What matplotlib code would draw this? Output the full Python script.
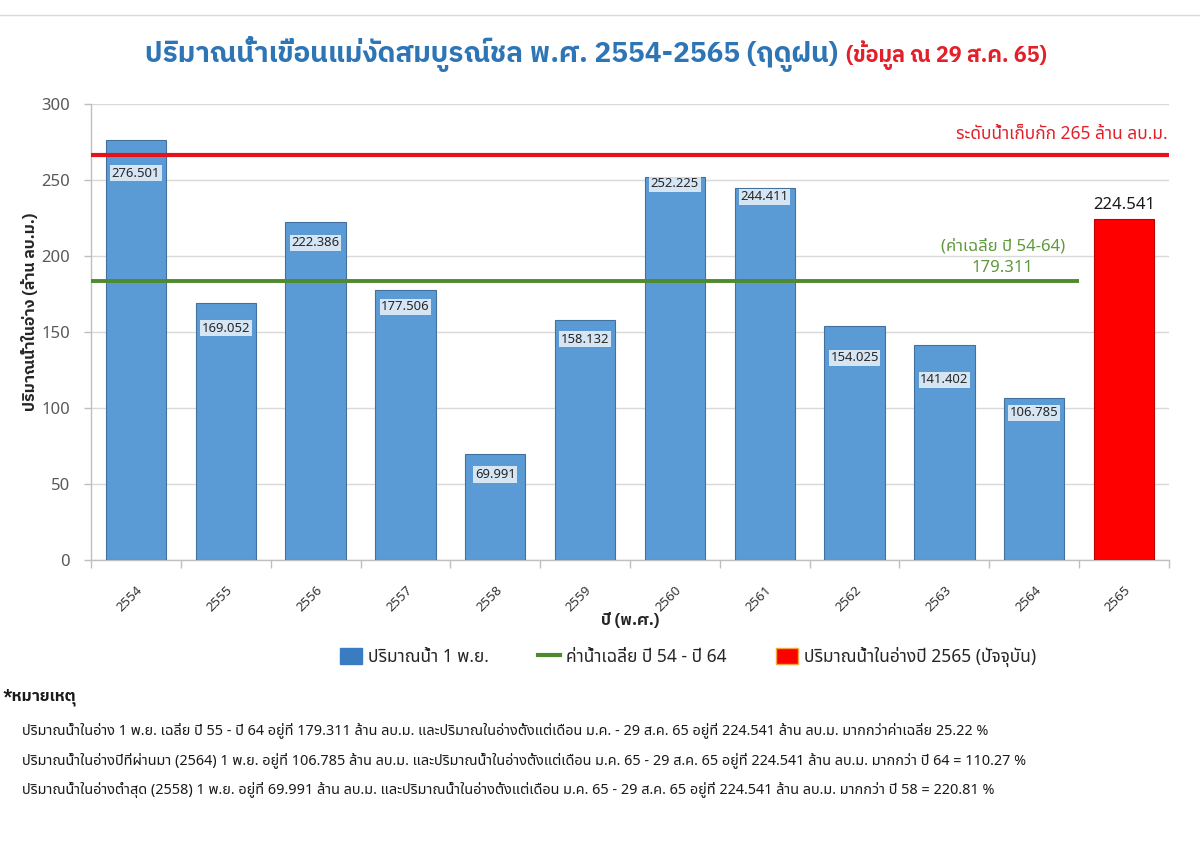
import matplotlib
matplotlib.use("Agg")
import matplotlib.pyplot as plt
from matplotlib.patches import Patch
from matplotlib.lines import Line2D
import numpy as np

FAM = ['Noto Sans', 'Noto Sans Thai', 'DejaVu Sans']
BFAM = ['IBM Plex Sans Thai', 'Noto Sans Thai', 'DejaVu Sans']
plt.rcParams['font.family'] = FAM

# ---------------- data ----------------
years = ['2554', '2555', '2556', '2557', '2558', '2559', '2560', '2561',
         '2562', '2563', '2564', '2565']
nov1_volume = [276.501, 169.052, 222.386, 177.506, 69.991, 158.132, 252.225,
               244.411, 154.025, 141.402, 106.785]
current_volume = 224.541
storage_level = 266.5          # drawn line position
average_level = 183.3          # drawn line position
average_label = '179.311'
yticks = [0, 50, 100, 150, 200, 250, 300]

title_main = 'ปริมาณน้ำเขื่อนแม่งัดสมบูรณ์ชล พ.ศ. 2554-2565 (ฤดูฝน)'
title_sub = '(ข้อมูล ณ 29 ส.ค. 65)'
ylabel = 'ปริมาณน้ำในอ่าง (ล้าน ลบ.ม.)'
xlabel = 'ปี (พ.ศ.)'
storage_text = 'ระดับน้ำเก็บกัก 265 ล้าน ลบ.ม.'
average_text = '(ค่าเฉลี่ย ปี 54-64)'
legend_labels = ['ปริมาณน้ำ 1 พ.ย.', 'ค่าน้ำเฉลี่ย ปี 54 - ปี 64',
                 'ปริมาณน้ำในอ่างปี 2565 (ปัจจุบัน)']
note_title = '*หมายเหตุ'
notes = [
    'ปริมาณน้ำในอ่าง 1 พ.ย. เฉลี่ย ปี 55 - ปี 64 อยู่ที่ 179.311 ล้าน ลบ.ม. และปริมาณในอ่างตั้งแต่เดือน ม.ค. - 29 ส.ค. 65 อยู่ที่ 224.541 ล้าน ลบ.ม. มากกว่าค่าเฉลี่ย 25.22 %',
    'ปริมาณน้ำในอ่างปีที่ผ่านมา (2564) 1 พ.ย. อยู่ที่ 106.785 ล้าน ลบ.ม. และปริมาณน้ำในอ่างตั้งแต่เดือน ม.ค. 65 - 29 ส.ค. 65 อยู่ที่ 224.541 ล้าน ลบ.ม. มากกว่า ปี 64 = 110.27 %',
    'ปริมาณน้ำในอ่างต่ำสุด (2558) 1 พ.ย. อยู่ที่ 69.991 ล้าน ลบ.ม. และปริมาณน้ำในอ่างตั้งแต่เดือน ม.ค. 65 - 29 ส.ค. 65 อยู่ที่ 224.541 ล้าน ลบ.ม. มากกว่า ปี 58 = 220.81 %',
]

# per-bar label offsets below bar top (points) – styling only
label_offsets = [24, 18, 15, 12, 15, 14, 5, 6, 23, 25, 11]

BLUE = '#5B9BD5'
BLUE_EDGE = '#41719C'
RED = '#FF0000'
RED_LINE = '#E5121C'
GREEN_LINE = '#4E8A2E'
GREEN_TEXT = '#5E9A3C'
TITLE_BLUE = '#2E75B6'
TITLE_RED = '#E3202A'
DARK = '#262626'
GRAY_TXT = '#595959'

fig = plt.figure(figsize=(12, 8.48), dpi=100)
fig.patch.set_facecolor('white')
ax = fig.add_axes([91 / 1200, 1 - 560 / 848, (1169 - 91) / 1200, (560 - 104) / 848])

x = np.arange(len(years))
n_hist = len(nov1_volume)
bars = ax.bar(x[:n_hist], nov1_volume, width=0.67, color=BLUE,
              edgecolor=BLUE_EDGE, linewidth=0.8, zorder=3)
cur = ax.bar(x[n_hist:], [current_volume], width=0.67, color=RED,
             edgecolor='#C00000', linewidth=0.8, zorder=3)

for b, v, off in zip(bars, nov1_volume, label_offsets):
    ax.annotate(f'{v:.3f}', xy=(b.get_x() + b.get_width() / 2, v),
                xytext=(0, -off), textcoords='offset points',
                ha='center', va='center', fontsize=9.4, color=DARK, zorder=5,
                bbox=dict(boxstyle='square,pad=0.12', fc='white', ec='none', alpha=0.75))
ax.annotate(f'{current_volume:.3f}', xy=(x[-1], current_volume),
            xytext=(0, 4), textcoords='offset points', ha='center', va='bottom',
            fontsize=12, color='#1a1a1a', zorder=5)

# reference lines
ax.plot([-0.5, len(years) - 0.5], [storage_level, storage_level], color=RED_LINE,
        lw=3.0, zorder=4, solid_capstyle='butt')
ax.plot([-0.5, n_hist - 0.5], [average_level, average_level], color=GREEN_LINE,
        lw=2.8, zorder=4, solid_capstyle='butt')

ax.text(len(years) - 0.52, storage_level + 8, storage_text, ha='right', va='bottom',
        color=TITLE_RED, fontsize=12.5)
ax.text(9.65, average_level + 23, average_text, ha='center', va='center',
        color=GREEN_TEXT, fontsize=12)
ax.text(9.65, average_level + 8.5, average_label, ha='center', va='center',
        color=GREEN_TEXT, fontsize=12)

ax.set_xlim(-0.5, len(years) - 0.5)
ax.set_ylim(0, 300)
ax.set_yticks(yticks)
ax.set_yticklabels([str(t) for t in yticks], fontsize=12, color=GRAY_TXT)
ax.set_xticks(x)
ax.set_xticklabels(years, rotation=45, ha='right', va='top', rotation_mode='anchor',
                   fontsize=9.5, color='#333333')
ax.tick_params(axis='x', length=0, pad=17)
ax.set_xticks(np.arange(-0.5, len(years), 1.0), minor=True)
ax.tick_params(axis='x', which='minor', length=6, color='#BFBFBF', width=1)
ax.tick_params(axis='y', length=5, color='#BFBFBF', width=1, pad=10)
ax.grid(axis='y', color='#D9D9D9', lw=1, zorder=0)
ax.set_axisbelow(True)
for s in ['top', 'right']:
    ax.spines[s].set_visible(False)
for s in ['left', 'bottom']:
    ax.spines[s].set_color('#BFBFBF')
    ax.spines[s].set_linewidth(1)

ax.set_ylabel(ylabel, fontsize=11.5, fontweight='bold', color=DARK, family=BFAM)
ax.yaxis.set_label_coords(-0.049, 0.545)
ax.set_xlabel(xlabel, fontsize=11.5, fontweight='bold', color=DARK, family=BFAM)
ax.xaxis.set_label_coords(0.5, -0.115)

# title (two colours)
t1 = fig.text(145 / 1200, 1 - 62 / 848, title_main, ha='left', va='baseline',
              fontsize=20.2, color=TITLE_BLUE, fontweight='bold', family=BFAM)
fig.canvas.draw()
ex = t1.get_window_extent()
fig.text(ex.x1 / 1200 + 8 / 1200, 1 - 62 / 848, title_sub, ha='left', va='baseline',
         fontsize=15.6, color=TITLE_RED, fontweight='bold', family=BFAM)

# legend
handles = [Patch(facecolor='#3A7CC2', edgecolor='#3A7CC2'),
           Line2D([0], [0], color=GREEN_LINE, lw=3),
           Patch(facecolor=RED, edgecolor='#F4A742', lw=1)]
fig.legend(handles, legend_labels, loc='center', bbox_to_anchor=(688 / 1200, 1 - 657 / 848),
           ncol=3, frameon=False, fontsize=12.5, handlelength=1.3, handleheight=1.1,
           columnspacing=2.8, handletextpad=0.35, labelcolor=DARK)

# notes
fig.text(2 / 1200, 1 - 697 / 848, note_title, ha='left', va='center', fontsize=11.5,
         fontweight='bold', color='#1a1a1a', family=BFAM)
for i, line in enumerate(notes):
    fig.text(22 / 1200, 1 - (730 + 30 * i) / 848, line, ha='left', va='center',
             fontsize=10.4, color='#1a1a1a')

# light frame
fig.add_artist(Line2D([0, 1], [1 - 15 / 848, 1 - 15 / 848], transform=fig.transFigure,
                      color='#D9D9D9', lw=1))

fig.savefig('out.png', dpi=100, facecolor='white')
